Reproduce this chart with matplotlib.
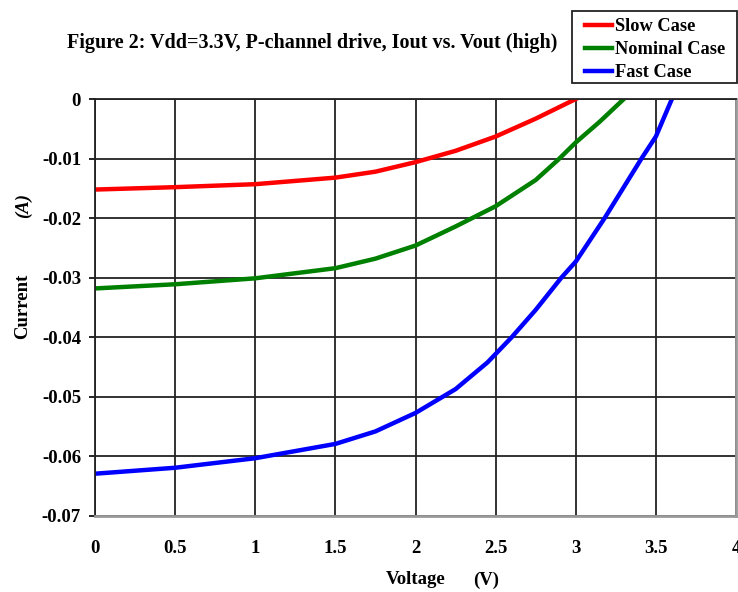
import matplotlib.pyplot as plt
from matplotlib.patches import Rectangle

# Voltage (V) and current (A)
slow_v = [0, 0.5, 1.0, 1.5, 1.75, 2.0, 2.25, 2.5, 2.75, 3.0]
slow_i = [-0.0152, -0.0148, -0.0143, -0.0132, -0.0122, -0.0106, -0.0087, -0.0063, -0.0033, 0.0]

nominal_v = [0, 0.5, 1.0, 1.5, 1.75, 2.0, 2.25, 2.5, 2.75, 2.89, 3.0, 3.15, 3.3]
nominal_i = [-0.0318, -0.0311, -0.0301, -0.0284, -0.0268, -0.0246, -0.0214, -0.0180,
             -0.0136, -0.0102, -0.0073, -0.0038, 0.0]

fast_v = [0, 0.5, 1.0, 1.5, 1.75, 2.0, 2.25, 2.45, 2.6, 2.75, 2.91, 3.0, 3.18, 3.41, 3.5, 3.6]
fast_i = [-0.0629, -0.0619, -0.0603, -0.0579, -0.0558, -0.0527, -0.0487, -0.0442, -0.0400,
          -0.0354, -0.0300, -0.0273, -0.0200, -0.0100, -0.0063, 0.0]

x_ticks = [0, 0.5, 1, 1.5, 2, 2.5, 3, 3.5, 4]
x_labels = ["0", "0.5", "1", "1.5", "2", "2.5", "3", "3.5", "4"]
y_ticks = [0, -0.01, -0.02, -0.03, -0.04, -0.05, -0.06, -0.07]
y_labels = ["0", "-0.01", "-0.02", "-0.03", "-0.04", "-0.05", "-0.06", "-0.07"]

plt.rcParams['font.family'] = ['Liberation Serif', 'DejaVu Serif']
plt.rcParams['font.weight'] = 'bold'

fig = plt.figure(figsize=(7.38, 5.92), dpi=100)
ax = fig.add_axes([95 / 738, 76 / 592, 641 / 738, 417 / 592])

ax.plot(slow_v, slow_i, color='#ff0000', lw=3.2, label='Slow Case')
ax.plot(nominal_v, nominal_i, color='#008000', lw=3.2, label='Nominal Case')
ax.plot(fast_v, fast_i, color='#0000ff', lw=3.2, label='Fast Case')

ax.set_xlim(0, 4)
ax.set_ylim(-0.07, 0)
ax.set_xticks(x_ticks)
ax.set_xticklabels(x_labels)
ax.set_yticks(y_ticks)
ax.set_yticklabels(y_labels)
ax.grid(True, color='#222222', lw=1.3)
ax.set_axisbelow(True)
ax.tick_params(axis='x', length=0, pad=17, labelsize=13.5)
ax.tick_params(axis='y', length=4.5, width=1.2, pad=5.5, labelsize=13.5, direction='out')

for side in ['left', 'top']:
    ax.spines[side].set_color('#222222')
    ax.spines[side].set_linewidth(1.3)
for side in ['right', 'bottom']:
    ax.spines[side].set_color('#999999')
    ax.spines[side].set_linewidth(2)

# Chart title and axis labels
fig.text(312 / 738, 1 - 43 / 592, "Figure 2: Vdd=3.3V, P-channel drive, Iout vs. Vout (high)",
         ha='center', va='center', fontsize=14.5, fontweight='bold')
fig.text(23 / 738, 1 - 306 / 592, "Current", rotation=90, ha='center', va='center',
         fontsize=13.5, fontweight='bold')
fig.text(23 / 738, 1 - 205 / 592, "(A)", rotation=90, ha='center', va='center',
         fontsize=13.5, fontweight='bold', style='italic')
fig.text(416 / 738, 1 - 580 / 592, "Voltage", ha='center', va='center',
         fontsize=13.5, fontweight='bold')
fig.text(486 / 738, 1 - 580 / 592, "(V)", ha='center', va='center',
         fontsize=13.5, fontweight='bold')

# Legend box drawn by hand so the side padding can differ from the top padding
fig.patches.append(Rectangle((572 / 738, 1 - 83 / 592), 165 / 738, 72 / 592,
                             transform=fig.transFigure, fill=False,
                             edgecolor='#222222', lw=1.3))
fig.legend(loc='upper left', bbox_to_anchor=(585 / 738, 1 - 18 / 592),
           bbox_transform=fig.transFigure, frameon=False, fontsize=13.2,
           handlelength=1.45, handletextpad=0.2, labelspacing=0.33,
           borderpad=0, borderaxespad=0)

fig.savefig('out.png', dpi=100)
